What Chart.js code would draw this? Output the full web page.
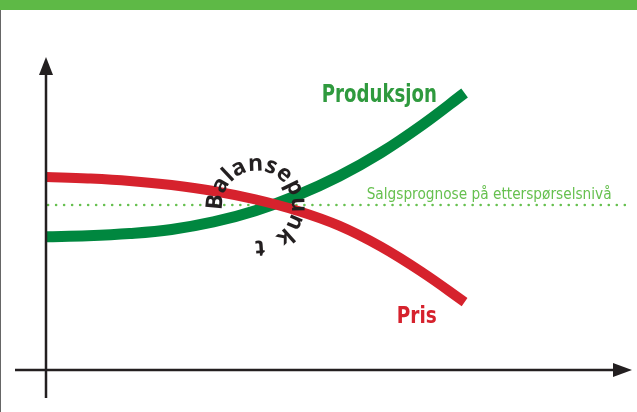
<!DOCTYPE html>
<html>
<head>
<meta charset="utf-8">
<script src="https://cdn.jsdelivr.net/npm/chart.js@4/dist/chart.umd.min.js"></script>
<style>
  html, body { margin: 0; padding: 0; background: #fff; }
  #wrap { position: relative; width: 637px; height: 412px; overflow: hidden; }
  #topbar { position: absolute; left: 0; top: 0; width: 637px; height: 10px; background: #5eb946; }
  #edge { position: absolute; left: 0; top: 10px; width: 1px; height: 402px; background: #666; }
  #chart { position: absolute; left: 0; top: 0; }
</style>
</head>
<body>
<div id="wrap">
  <canvas id="chart" width="637" height="412"></canvas>
  <div id="topbar"></div>
  <div id="edge"></div>
</div>
<script>
// x positions along the (unlabelled) horizontal axis
const xValues = [0, 1, 2, 3, 4, 5, 6, 7, 8, 9, 10];
// Produksjon (green) and Pris (red)
const produksjon = [4.26, 4.29, 4.36, 4.49, 4.73, 5.09, 5.58, 6.19, 6.94, 7.84, 8.85];
const pris = [6.17, 6.12, 6.04, 5.91, 5.72, 5.45, 5.09, 4.61, 3.94, 3.11, 2.17];
// Salgsprognose level (dotted line)
const prognoseLevel = 5.27;
const prognoseRange = [0.05, 13.95];
const xMax = 14;
const yMax = 10;

// annotation texts and their anchors in data units
const labelProduksjon = "Produksjon";
const labelPris = "Pris";
const labelPrognose = "Salgsprognose på etterspørselsnivå";
const labelBalanse = "Balansepunkt";
const anchorProduksjon = [6.59, 8.56];
const anchorPris = [8.38, 1.50];
const anchorPrognose = [7.66, 5.46];
const anchorBalanse = [5.04, 5.25];

const GREEN = "#00873f";
const RED = "#d6222d";
const LIGHT = "#66c04f";
const INK = "#231f20";

function toPoints(xs, ys) {
    return xs.map((x, i) => ({ x: x, y: ys[i] }));
}

function arrowHead(ctx, tipX, tipY, dir, len, half) {
    ctx.beginPath();
    if (dir === "up") {
        ctx.moveTo(tipX, tipY);
        ctx.lineTo(tipX - half, tipY + len);
        ctx.lineTo(tipX + half, tipY + len);
    } else {
        ctx.moveTo(tipX, tipY);
        ctx.lineTo(tipX - len, tipY - half);
        ctx.lineTo(tipX - len, tipY + half);
    }
    ctx.closePath();
    ctx.fill();
}

// draws text squeezed/stretched to a given pixel width
function fitText(ctx, text, x, y, width) {
    const w = ctx.measureText(text).width;
    ctx.save();
    ctx.translate(x, y);
    ctx.scale(width / w, 1);
    ctx.fillText(text, 0, 0);
    ctx.restore();
}

const decorPlugin = {
    id: "decor",
    afterDatasetsDraw(chart) {
        const ctx = chart.ctx;
        const xs = chart.scales.x;
        const ys = chart.scales.y;
        const x0 = xs.getPixelForValue(0);
        const y0 = ys.getPixelForValue(0);
        const xEnd = xs.getPixelForValue(xMax);
        const yEnd = ys.getPixelForValue(yMax);

        ctx.save();
        // axes with arrows
        ctx.strokeStyle = INK;
        ctx.fillStyle = INK;
        ctx.lineWidth = 2.5;
        ctx.beginPath();
        ctx.moveTo(x0, y0 + 28);
        ctx.lineTo(x0, yEnd + 16);
        ctx.moveTo(x0 - 31, y0);
        ctx.lineTo(xEnd - 16, y0);
        ctx.stroke();
        arrowHead(ctx, x0, yEnd, "up", 18, 7);
        arrowHead(ctx, xEnd, y0, "right", 19, 7);

        // curve labels
        ctx.textBaseline = "alphabetic";
        ctx.textAlign = "left";
        ctx.font = 'bold 24px "Liberation Sans Narrow", "DejaVu Sans Condensed", sans-serif';
        ctx.fillStyle = "#2f9a3e";
        fitText(ctx, labelProduksjon, xs.getPixelForValue(anchorProduksjon[0]), ys.getPixelForValue(anchorProduksjon[1]), 115);
        ctx.font = 'bold 23px "Liberation Sans Narrow", "DejaVu Sans Condensed", sans-serif';
        ctx.fillStyle = RED;
        fitText(ctx, labelPris, xs.getPixelForValue(anchorPris[0]), ys.getPixelForValue(anchorPris[1]), 40);

        // prognose label
        ctx.font = '16px "Liberation Sans Narrow", "DejaVu Sans Condensed", sans-serif';
        ctx.fillStyle = LIGHT;
        fitText(ctx, labelPrognose, xs.getPixelForValue(anchorPrognose[0]), ys.getPixelForValue(anchorPrognose[1]), 245);

        // curved "Balansepunkt" around the crossing: letters spread by width
        // from B to k, the final t set a little apart as in the picture
        const cx = xs.getPixelForValue(anchorBalanse[0]);
        const cy = ys.getPixelForValue(anchorBalanse[1]);
        const radius = 35;
        const startDeg = 185;
        const endDeg = 408;
        const lastDeg = 446;
        ctx.font = 'bold 23px "Open Sans", sans-serif';
        ctx.fillStyle = INK;
        ctx.textAlign = "center";
        const chars = labelBalanse.split("");
        const centers = [];
        let acc = 0;
        chars.forEach(c => {
            const wd = ctx.measureText(c).width;
            centers.push(acc + wd / 2);
            acc += wd;
        });
        const n = chars.length - 1;
        const span = centers[n - 1] - centers[0];
        chars.forEach((c, i) => {
            const deg = i === n ? lastDeg : startDeg + (centers[i] - centers[0]) / span * (endDeg - startDeg);
            const a = deg * Math.PI / 180;
            ctx.save();
            ctx.translate(cx + radius * Math.cos(a), cy + radius * Math.sin(a));
            ctx.rotate(a + Math.PI / 2);
            ctx.fillText(c, 0, 0);
            ctx.restore();
        });
        ctx.restore();
    }
};

new Chart(document.getElementById("chart"), {
    type: "line",
    data: {
        datasets: [
            {
                label: "Pris",
                data: toPoints(xValues, pris),
                borderColor: RED,
                borderWidth: 10,
                pointRadius: 0,
                tension: 0.4,
                fill: false
            },
            {
                label: "Produksjon",
                data: toPoints(xValues, produksjon),
                borderColor: GREEN,
                borderWidth: 11,
                pointRadius: 0,
                tension: 0.4,
                fill: false
            },
            {
                label: "Salgsprognose",
                data: prognoseRange.map(x => ({ x: x, y: prognoseLevel })),
                borderColor: LIGHT,
                borderWidth: 2.6,
                borderDash: [0.01, 8],
                borderCapStyle: "round",
                pointRadius: 0,
                fill: false
            }
        ]
    },
    options: {
        responsive: false,
        animation: false,
        events: [],
        layout: { padding: { left: 46, right: 5, top: 57, bottom: 42 } },
        plugins: { legend: { display: false }, tooltip: { enabled: false } },
        scales: {
            x: { type: "linear", min: 0, max: xMax, display: false },
            y: { type: "linear", min: 0, max: yMax, display: false }
        }
    },
    plugins: [decorPlugin]
});
</script>
</body>
</html>
